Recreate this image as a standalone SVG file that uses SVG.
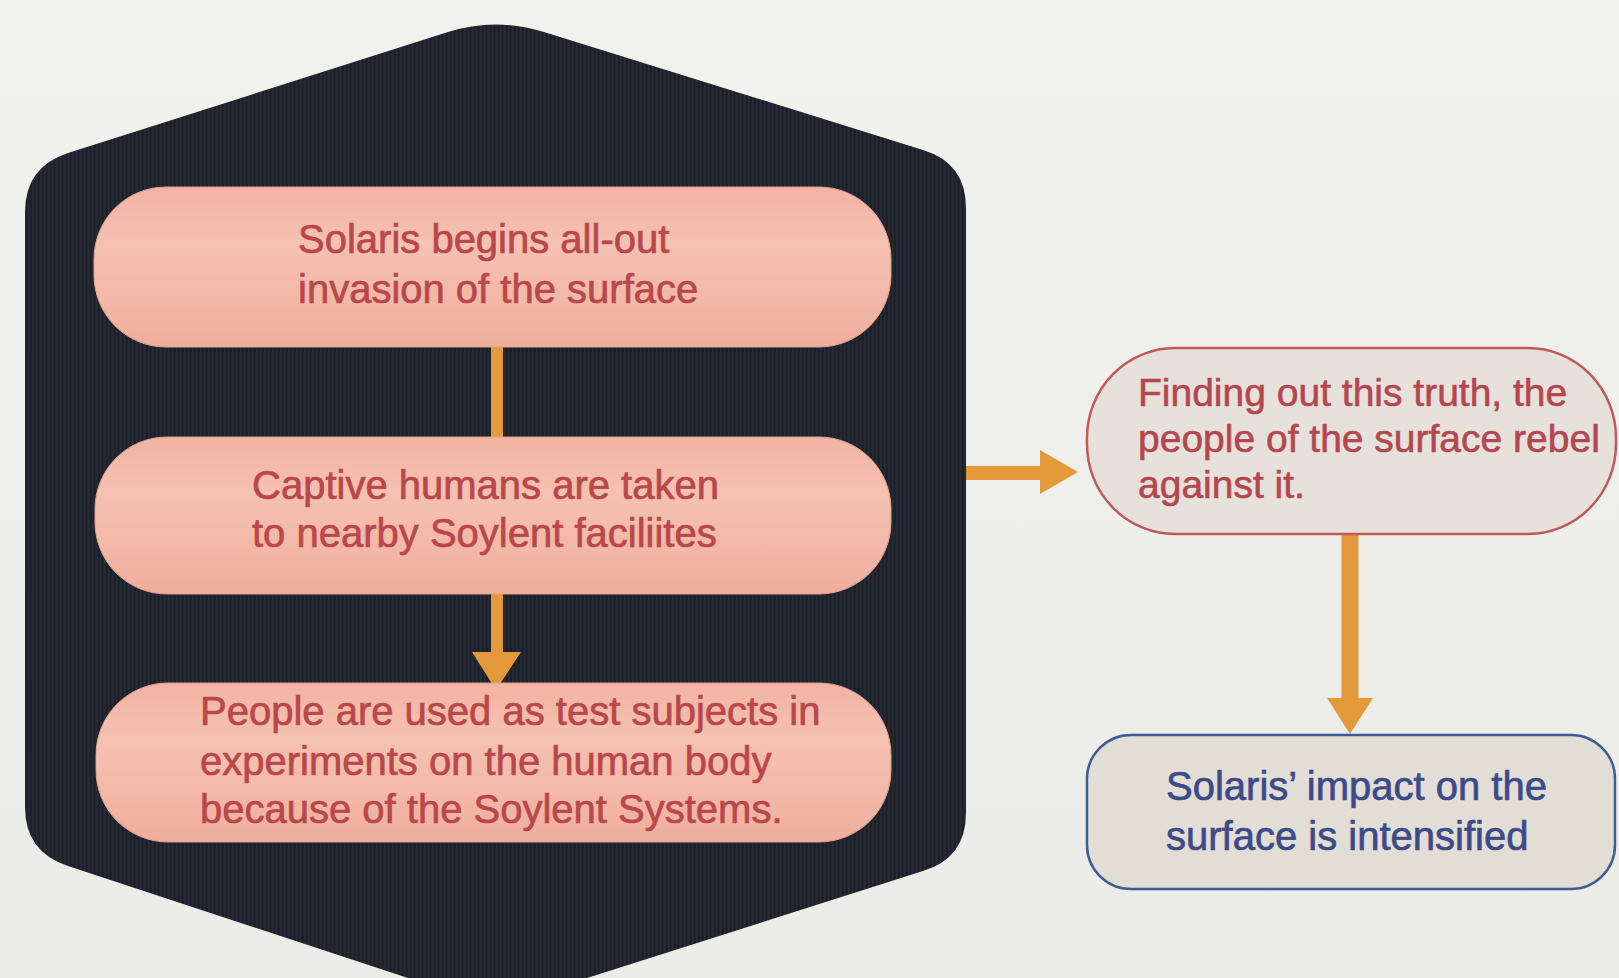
<svg xmlns="http://www.w3.org/2000/svg" width="1619" height="978" viewBox="0 0 1619 978">
<defs>
<linearGradient id="pinkg" x1="0" y1="0" x2="0" y2="1">
<stop offset="0" stop-color="#f2b3a2"/>
<stop offset="0.35" stop-color="#f5c1b1"/>
<stop offset="0.7" stop-color="#f3b8a7"/>
<stop offset="1" stop-color="#f0ae9c"/>
</linearGradient>
<linearGradient id="bgg" x1="0" y1="0" x2="0" y2="1">
<stop offset="0" stop-color="#f1f1ed"/>
<stop offset="1" stop-color="#ebebe7"/>
</linearGradient>
<pattern id="stripes" x="0" y="0" width="4" height="10" patternUnits="userSpaceOnUse">
<rect x="0" y="0" width="4" height="10" fill="#1e2129"/>
<rect x="0" y="0" width="1.5" height="10" fill="#272b35"/>
</pattern>
<style>
.pill{fill:url(#pinkg);stroke:#e0a08f;stroke-width:1}
.ptxt{font-family:"Liberation Sans",Arial,sans-serif;font-size:40px;fill:#b9474c;stroke:#b9474c;stroke-width:0.7}
.rtxt{font-family:"Liberation Sans",Arial,sans-serif;font-size:39px;fill:#b5464f;stroke:#b5464f;stroke-width:0.6}
.btxt{font-family:"Liberation Sans",Arial,sans-serif;font-size:40px;fill:#3d4a8a;stroke:#3d4a8a;stroke-width:0.7}
.conn{stroke:#e49a3b;fill:none}
.head{fill:#e49a3b}
</style>
</defs>
<rect x="0" y="0" width="1619" height="978" fill="url(#bgg)"/>
<g id="hexagon">
<path d="M 448 32 Q 496 17 544 32 L 923 150 Q 966 163 966 208 L 966 813 Q 966 858 923 871 L 496 1007 L 68 866 Q 25 852 25 807 L 25 212 Q 25 167 68 153 Z" fill="url(#stripes)"/>
</g>
<g id="connectors">
<line class="conn" x1="497" y1="345" x2="497" y2="439" stroke-width="12"/>
<line class="conn" x1="497" y1="592" x2="497" y2="656" stroke-width="12"/>
<polygon class="head" points="472,652 521,652 496,690"/>
<line class="conn" x1="966" y1="473" x2="1043" y2="473" stroke-width="14"/>
<polygon class="head" points="1040,450 1040,494 1078,472"/>
<line class="conn" x1="1350" y1="534" x2="1350" y2="701" stroke-width="17"/>
<polygon class="head" points="1327,698 1373,698 1350,734"/>
</g>
<g id="node1">
<rect class="pill" x="94" y="187" width="797" height="160" rx="72" ry="72"/>
<text class="ptxt" x="298" y="253">Solaris begins all-out</text>
<text class="ptxt" x="298" y="303">invasion of the surface</text>
</g>
<g id="node2">
<rect class="pill" x="95" y="437" width="796" height="157" rx="72" ry="72"/>
<text class="ptxt" x="252" y="499">Captive humans are taken</text>
<text class="ptxt" x="252" y="547">to nearby Soylent faciliites</text>
</g>
<g id="node3">
<rect class="pill" x="96" y="683" width="795" height="159" rx="72" ry="72"/>
<text class="ptxt" x="200" y="725">People are used as test subjects in</text>
<text class="ptxt" x="200" y="775">experiments on the human body</text>
<text class="ptxt" x="200" y="823">because of the Soylent Systems.</text>
</g>
<g id="node4">
<rect x="1087" y="348" width="529" height="186" rx="88" ry="90" fill="#e6e1db" stroke="#c2585a" stroke-width="2.5"/>
<text class="rtxt" x="1138" y="406">Finding out this truth, the</text>
<text class="rtxt" x="1138" y="452">people of the surface rebel</text>
<text class="rtxt" x="1138" y="498">against it.</text>
</g>
<g id="node5">
<rect x="1087" y="735" width="528" height="154" rx="44" ry="44" fill="#e2ddd5" stroke="#3f5c98" stroke-width="2.5"/>
<text class="btxt" x="1166" y="800">Solaris’ impact on the</text>
<text class="btxt" x="1166" y="850">surface is intensified</text>
</g>
</svg>
